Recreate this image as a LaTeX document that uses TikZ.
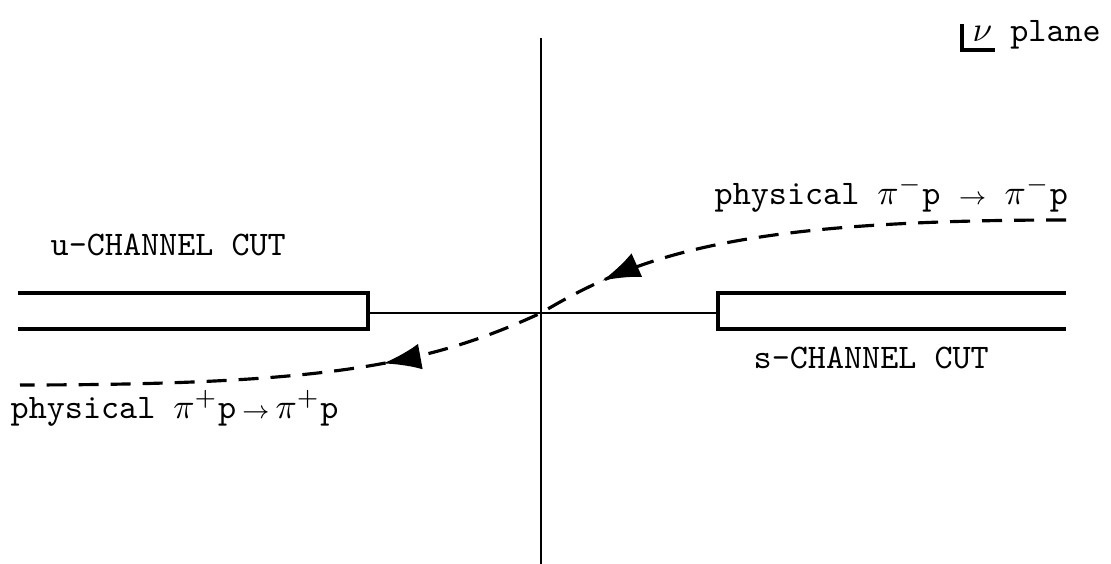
\documentclass[tikz,border=0pt]{standalone}
\usepackage{tikz}
\usetikzlibrary{positioning,arrows.meta,decorations.markings}

\begin{document}
\begin{tikzpicture}[
    every node/.style={font=\ttfamily\fontsize{9.8}{12}\selectfont, inner sep=0pt},
    cutline/.style={line width=1.1pt},
    axisline/.style={line width=0.7pt},
    physpath/.style={line width=0.9pt, dash pattern=on 2mm off 1.2mm,
        postaction={decorate},
        decoration={markings,
            mark=at position 0.44 with {\arrow{Latex[length=3.8mm,width=2.6mm]}},
            mark=at position 0.66 with {\arrow{Latex[length=3.8mm,width=2.6mm]}}}}
]
\useasboundingbox (0,0) rectangle (11.11,5.64);

\coordinate (O) at (5.41,2.51);

% axes
\draw[axisline] (5.41,0) -- (5.41,5.26);
\draw[axisline] (3.68,2.51) -- (O) -- (7.18,2.51);

% cuts
\draw[cutline] (0.18,2.71) -- (3.68,2.71) -- (3.68,2.35) -- (0.18,2.35);
\draw[cutline] (10.66,2.71) -- (7.18,2.71) -- (7.18,2.35) -- (10.66,2.35);

\node[anchor=west] (ucut) at (0.50,3.19) {u-CHANNEL CUT};
\node[anchor=west] (scut) at (7.53,2.06) {s-CHANNEL CUT};

% physical regions
\draw[physpath] (10.66,3.44)
.. controls (7.4,3.44) and (6.4,3.10) .. (O)
.. controls (4.3,2.00) and (3.3,1.79) .. (0.20,1.79);

\node[anchor=west] (minuslbl) at (7.14,3.70)
    {physical $\pi^{-}$p $\scriptstyle\rightarrow$ $\pi^{-}$p};
\node[anchor=west] (pluslbl) at (0.10,1.56)
    {physical $\pi^{+}$p\,$\scriptstyle\rightarrow$\,$\pi^{+}$p};

% plane label
\node[anchor=west] (plane) at (9.72,5.29) {$\nu$ plane};
\draw[line width=1pt] (9.62,5.40) |- (9.95,5.14);

\end{tikzpicture}
\end{document}
